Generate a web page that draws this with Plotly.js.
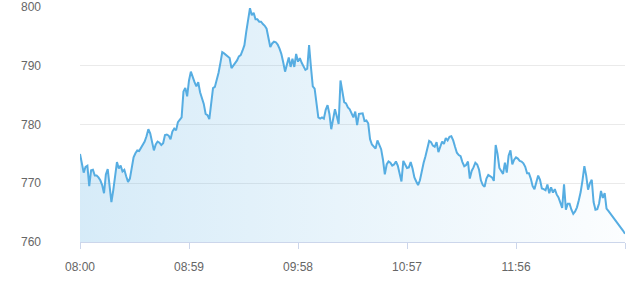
<!DOCTYPE html>
<html>
<head>
<meta charset="utf-8">
<script src="https://cdn.plot.ly/plotly-3.0.1.min.js"></script>
<style>
html,body{margin:0;padding:0;background:#fff;}
#chart{width:640px;height:285px;}
</style>
</head>
<body>
<div id="chart"></div>
<script>
// Price per minute, 08:00 .. 12:55
var prices = [
775,773,771.8,772.8,773,769.5,772.2,772.3,771.3,771.3,
771,770.5,769.7,768.3,771.5,772.4,769.8,766.8,768.8,771,
773.6,772.5,773,772,772.3,771.2,770.2,770.8,772.6,774.4,
775.1,775.6,775.5,776,776.5,777.1,778,779.2,778.5,777,
775.6,776.6,777.1,776.9,776.5,776.8,778.2,778.3,778.1,777.5,
778.8,779.3,779,780.4,780.8,781.2,785.6,786.2,784.8,787.5,
789,788,787.2,786.5,787.2,785.5,784.4,783.5,781.8,781.6,
780.9,783.5,786.2,786.4,787.4,788.8,790.5,792.3,792.1,791.8,
791.5,791.3,789.6,790,790.4,790.9,791.6,791.8,792.6,793.5,
795.8,798.2,799.8,798.6,799,797.9,797.9,797.5,797.5,797.1,
796.8,796.3,794.9,793.2,793.8,794.1,794,793.6,792.9,792,
790.6,789,790.2,791.4,789.8,791.2,789.8,792,790.7,791.3,
790.5,790,789.3,789.5,793.5,789.8,786.5,786.1,784,781.2,
781,781.2,781,782.5,783.3,781.8,779.2,780.8,782.6,781.4,
780.1,787.5,785.8,783.8,783.6,782.9,782.6,782,781.2,782.2,
779.9,781.8,781.9,781.9,780.6,780.7,780.2,777.5,776.6,776.3,
775.9,777.3,776.4,775.8,774,771.5,773.2,773.7,773.5,773,
773.2,773.7,773,771.6,770.3,773.8,773.3,772.6,772.7,773.6,
772.5,771,770.3,769.7,770.5,772.2,773.5,774.6,776.2,777.2,
777,776.4,776.2,777,775.3,776.3,777.1,776.7,777.7,777.3,
777.9,778,777.3,776.2,775.2,774.8,774.6,773.6,772.9,773.1,
773.7,770.8,772.1,772.7,773.5,773.2,772.3,770.5,769.7,769.4,
770.8,771.4,771.2,771,770.4,776.5,775,772.6,772.1,771.6,
773.5,771.8,774.7,775.6,773.2,774,774.4,774.2,773.8,773.7,
773.4,772.8,771.7,771.7,770.8,769.5,769,770.3,771.3,770.6,
769.1,769,768.8,769.8,768.3,769.3,768.4,769,768.1,767.6,
766.5,765.8,769.8,765.5,766.5,766.5,765.5,764.8,765.2,765.9,
767.1,768.5,770.5,772.9,771.3,768.9,770,770.6,766.8,765.5,
765.6,766.6,768.7,767.5,768.3,765.7,765.3,764.9,764.5,764,
763.6,763.2,762.8,762.3,761.9,761.4
];

// Minute labels starting at 08:00, one per price
var startHour = 8;
var times = [];
for (var i = 0; i < prices.length; i++) {
  var h = startHour + Math.floor(i / 60);
  var m = i % 60;
  times.push((h < 10 ? '0' : '') + h + ':' + (m < 10 ? '0' : '') + m);
}

var xTickVals = ['08:00','08:59','09:58','10:57','11:56','12:55'];
var xTickText = ['08:00','08:59','09:58','10:57','11:56',''];
var yTickVals = [760,770,780,790,800];

var trace = {
  x: times,
  y: prices,
  type: 'scatter',
  mode: 'lines',
  line: {color: '#56ade2', width: 2},
  fill: 'tozeroy',
  fillgradient: {
    type: 'horizontal',
    colorscale: [[0,'rgba(86,173,226,0.24)'],[1,'rgba(86,173,226,0.02)']]
  },
  hoverinfo: 'x+y'
};

var layout = {
  width: 640,
  height: 285,
  margin: {l: 80, r: 15, t: 7, b: 43},
  paper_bgcolor: '#ffffff',
  plot_bgcolor: '#ffffff',
  showlegend: false,
  font: {family: 'Liberation Sans, Arial, sans-serif', size: 12, color: '#666666'},
  xaxis: {
    type: 'category',
    range: [0, prices.length - 1],
    tickmode: 'array',
    tickvals: xTickVals,
    ticktext: xTickText,
    ticks: 'outside',
    ticklen: 6,
    tickcolor: '#ccd6eb',
    showline: true,
    linecolor: '#ccd6eb',
    linewidth: 1,
    showgrid: false,
    zeroline: false,
    ticklabelstandoff: 8,
    tickfont: {size: 12, color: '#666666'}
  },
  yaxis: {
    range: [760, 800],
    tickmode: 'array',
    tickvals: yTickVals,
    showgrid: true,
    gridcolor: '#eaeaea',
    gridwidth: 1,
    zeroline: false,
    showline: false,
    ticks: '',
    ticklabelstandoff: 38,
    tickfont: {size: 12, color: '#666666'}
  }
};

Plotly.newPlot('chart', [trace], layout, {displayModeBar: false, staticPlot: true});
</script>
</body>
</html>
